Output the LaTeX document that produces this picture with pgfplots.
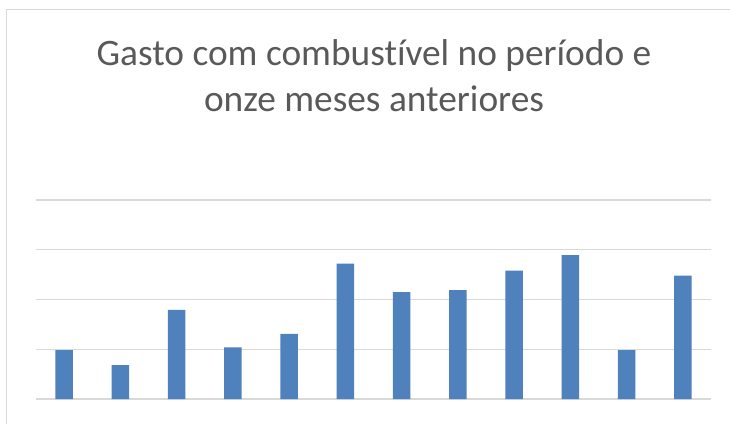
\documentclass[border=0pt]{standalone}
\usepackage{pgfplots}
\pgfplotsset{compat=1.18}
\usepackage{fontspec}
\setmainfont{Carlito}[Ligatures=NoCommon]
\definecolor{barblue}{HTML}{4F81BD}
\definecolor{gridgray}{HTML}{D9D9D9}
\definecolor{txtgray}{HTML}{595959}
\begin{document}
\begin{tikzpicture}[x=1bp,y=1bp]
\useasboundingbox (0,0) rectangle (730,424);
\fill[white] (0,0) rectangle (730,424);
\draw[gridgray, line width=1.3bp] (6.5,0) -- (6.5,414.5) -- (730,414.5);
\node[anchor=base, text=txtgray, font=\fontsize{37.5}{45}\selectfont] at (374,359) {Gasto com combustível no período e};
\node[anchor=base, text=txtgray, font=\fontsize{37.5}{45}\selectfont] at (374,313) {onze meses anteriores};
\begin{axis}[
  at={(36bp,25bp)}, anchor=south west,
  scale only axis, width=675bp, height=199bp,
  xmin=0.5, xmax=12.5, ymin=0, ymax=4,
  ybar, bar width=17.5bp,
  axis line style={draw=none},
  major tick length=0pt,
  xtick=\empty, ytick={0,1,2,3,4}, yticklabels={},
  ymajorgrids, grid style={gridgray, line width=1.2bp},
  clip=false,
]
\addplot[fill=barblue, draw=none] coordinates {
(1,0.98) (2,0.68) (3,1.79) (4,1.04) (5,1.31) (6,2.72)
(7,2.15) (8,2.19) (9,2.58) (10,2.89) (11,0.98) (12,2.48)
};
\end{axis}
\end{tikzpicture}
\end{document}
